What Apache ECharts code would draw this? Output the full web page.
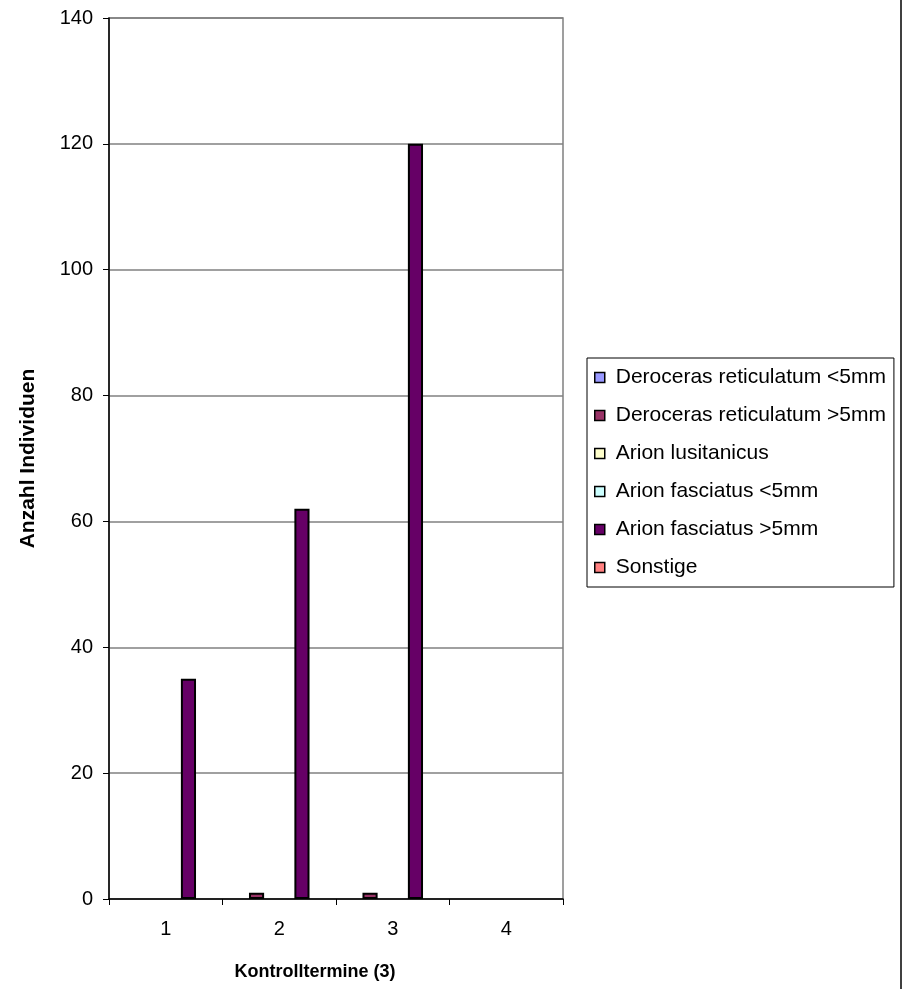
<!DOCTYPE html>
<html>
<head>
<meta charset="utf-8">
<script src="https://cdn.jsdelivr.net/npm/echarts@6/dist/echarts.min.js"></script>
<style>
html,body{margin:0;padding:0;background:#fff;}
#chart{width:902px;height:989px;}
</style>
</head>
<body>
<div id="chart"></div>
<script>
var categories = ['1', '2', '3', '4'];
var seriesNames = ['Deroceras reticulatum <5mm', 'Deroceras reticulatum >5mm', 'Arion lusitanicus', 'Arion fasciatus <5mm', 'Arion fasciatus >5mm', 'Sonstige'];
var derocerasSmall = [0, 0, 0, 0];
var derocerasLarge = [0, 1, 1, 0];
var arionLusitanicus = [0, 0, 0, 0];
var arionFasciatusSmall = [0, 0, 0, 0];
var arionFasciatusLarge = [35, 62, 120, 0];
var sonstige = [0, 0, 0, 0];
var seriesColors = ['#9999FF', '#993366', '#FFFFCC', '#CCFFFF', '#660066', '#FF8080'];
var yTicks = [0, 20, 40, 60, 80, 100, 120, 140];

var allData = [derocerasSmall, derocerasLarge, arionLusitanicus, arionFasciatusSmall, arionFasciatusLarge, sonstige];
var FONT = '"Liberation Sans", Arial, sans-serif';

var chart = echarts.init(document.getElementById('chart'), null, {renderer: 'canvas'});
var series = allData.map(function (d, i) {
  return {
    name: seriesNames[i],
    type: 'bar',
    data: d.map(function (v) { return v === 0 ? '-' : v; }),
    barGap: '0%',
    barCategoryGap: '20%',
    itemStyle: {color: seriesColors[i], borderColor: '#000', borderWidth: 2},
    emphasis: {disabled: true},
    animation: false
  };
});

chart.setOption({
  animation: false,
  textStyle: {fontFamily: FONT},
  grid: {left: 109, top: 18, width: 454, height: 881, show: true, borderColor: '#808080', borderWidth: 1.5, backgroundColor: '#fff'},
  legend: {
    orient: 'vertical',
    left: 587, top: 358,
    padding: [9, 8, 9, 7],
    itemWidth: 10, itemHeight: 10, itemGap: 17,
    icon: 'rect',
    borderColor: '#000', borderWidth: 1,
    backgroundColor: '#fff',
    selectedMode: false,
    itemStyle: {borderColor: '#000', borderWidth: 1.5},
    textStyle: {fontFamily: FONT, fontSize: 21, color: '#000', lineHeight: 20, padding: [0, 0, 0, 6]},
    data: seriesNames
  },
  xAxis: {
    type: 'category',
    data: categories,
    name: 'Kontrolltermine (3)',
    nameLocation: 'middle',
    nameGap: 64,
    nameTextStyle: {fontFamily: FONT, fontSize: 18, fontWeight: 'bold', color: '#000', padding: [0, 42, 0, 0]},
    axisLine: {lineStyle: {color: '#000', width: 1.5}},
    axisTick: {show: true, length: 6, lineStyle: {color: '#000', width: 1}},
    axisLabel: {fontFamily: FONT, fontSize: 20, color: '#000', margin: 20},
    splitLine: {show: false}
  },
  yAxis: {
    type: 'value',
    min: 0, max: 140, interval: 20,
    name: 'Anzahl Individuen',
    nameLocation: 'middle',
    nameGap: 70,
    nameTextStyle: {fontFamily: FONT, fontSize: 21, fontWeight: 'bold', color: '#000'},
    axisLine: {show: true, lineStyle: {color: '#000', width: 1.5}},
    axisTick: {show: true, length: 6, lineStyle: {color: '#000', width: 1}},
    axisLabel: {fontFamily: FONT, fontSize: 20, color: '#000', margin: 16,
      formatter: function (v) { return yTicks.indexOf(v) >= 0 ? String(v) : ''; }},
    splitLine: {show: true, lineStyle: {color: '#808080', width: 1.5}}
  },
  graphic: [{
    type: 'line', silent: true,
    shape: {x1: 901, y1: 0, x2: 901, y2: 989},
    style: {stroke: '#000', lineWidth: 1.5}
  }],
  series: series
});
</script>
</body>
</html>
